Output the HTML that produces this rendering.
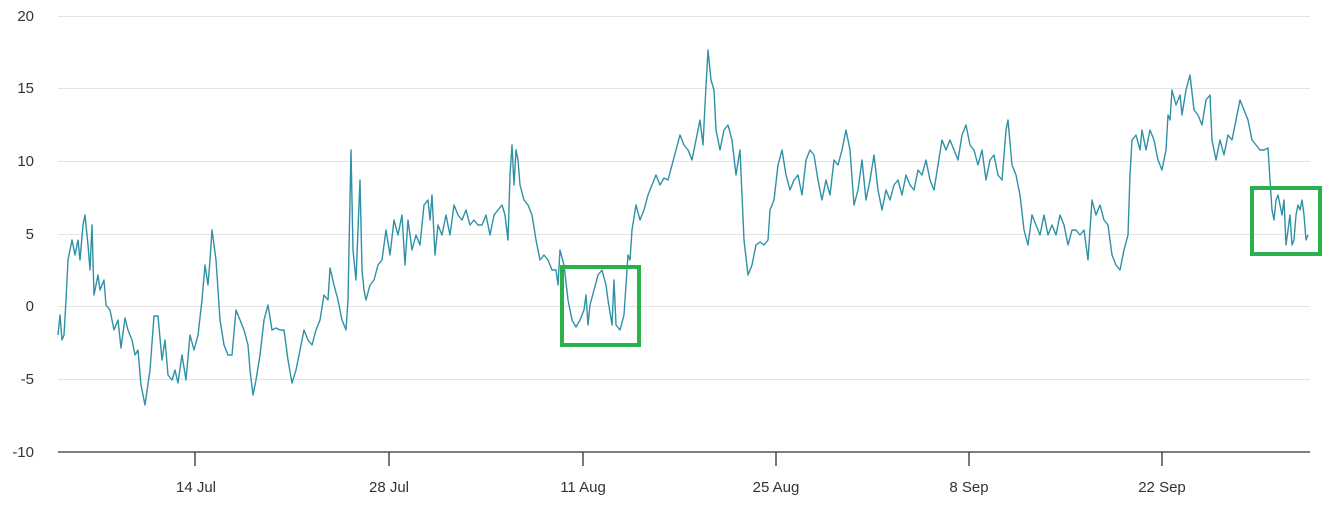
<!DOCTYPE html>
<html><head><meta charset="utf-8"><style>
html,body{margin:0;padding:0;background:#fff;}
svg text{font-family:"Liberation Sans",sans-serif;font-size:15px;fill:#333;}
</style></head><body>
<svg width="1327" height="510" xmlns="http://www.w3.org/2000/svg">
<g stroke="#e3e3e3" stroke-width="1">
<line x1="58" y1="16.5" x2="1310" y2="16.5"/>
<line x1="58" y1="88.5" x2="1310" y2="88.5"/>
<line x1="58" y1="161.5" x2="1310" y2="161.5"/>
<line x1="58" y1="234.5" x2="1310" y2="234.5"/>
<line x1="58" y1="306.5" x2="1310" y2="306.5"/>
<line x1="58" y1="379.5" x2="1310" y2="379.5"/>
</g>
<line x1="58" y1="452" x2="1310" y2="452" stroke="#333" stroke-width="1.3"/>
<g stroke="#333" stroke-width="1.3">
<line x1="195" y1="452" x2="195" y2="466"/><line x1="389" y1="452" x2="389" y2="466"/>
<line x1="583" y1="452" x2="583" y2="466"/><line x1="776" y1="452" x2="776" y2="466"/>
<line x1="969" y1="452" x2="969" y2="466"/><line x1="1162" y1="452" x2="1162" y2="466"/>
</g>
<g text-anchor="end">
<text x="34" y="21">20</text><text x="34" y="93">15</text><text x="34" y="166">10</text>
<text x="34" y="239">5</text><text x="34" y="311">0</text><text x="34" y="384">-5</text><text x="34" y="457">-10</text>
</g>
<g text-anchor="middle">
<text x="196" y="492">14 Jul</text><text x="389" y="492">28 Jul</text><text x="583" y="492">11 Aug</text>
<text x="776" y="492">25 Aug</text><text x="969" y="492">8 Sep</text><text x="1162" y="492">22 Sep</text>
</g>
<polyline fill="none" stroke="#2e91a6" stroke-width="1.4" stroke-linejoin="round" points="58,335 60,315 62,340 64,335 66,300 68,260 72,240 75,255 78,240 80,260 83,225 85,215 88,245 90,270 92,225 94,295 96,285 98,275 100,290 104,280 106,305 110,310 114,330 118,320 121,348 125,318 128,330 132,340 135,355 138,350 141,385 145,405 150,370 154,316 158,316 162,360 165,340 168,375 172,380 175,370 178,383 182,355 186,380 190,335 194,350 198,335 202,300 205,265 208,285 210,260 212,230 216,260 220,320 224,345 228,355 232,355 236,310 240,320 244,330 248,345 250,370 253,395 256,380 260,355 264,320 268,305 272,330 276,328 280,330 284,330 288,360 292,383 296,370 300,350 304,330 308,340 312,345 316,330 320,320 324,295 328,300 330,268 334,285 338,300 342,320 346,330 348,300 350,200 351,150 353,250 356,280 358,230 360,180 362,270 364,290 366,300 370,285 374,280 378,265 382,260 386,230 390,255 394,220 398,235 402,215 405,265 408,220 412,250 416,235 420,245 424,205 428,200 430,220 432,195 435,255 438,225 442,235 446,215 450,235 454,205 458,215 462,220 466,210 470,225 474,220 478,225 482,225 486,215 490,235 494,215 498,210 502,205 505,215 508,240 510,175 512,145 514,185 516,150 518,160 520,185 524,200 528,205 532,215 536,240 540,260 544,255 548,260 552,270 556,270 558,285 560,250 564,265 568,300 572,320 576,327 580,320 584,310 586,295 588,325 590,305 594,290 598,275 602,270 606,285 608,300 612,325 614,280 616,325 620,330 624,315 628,255 630,260 632,230 636,205 640,220 644,210 648,195 652,185 656,175 660,185 664,178 668,180 672,165 676,150 680,135 684,145 688,150 692,160 696,140 700,120 703,145 705,105 708,50 711,80 714,90 716,130 720,150 724,130 728,125 732,140 736,175 740,150 744,240 748,275 752,265 756,245 760,242 764,245 768,240 770,210 774,200 778,165 782,150 786,175 790,190 794,180 798,175 802,195 806,160 810,150 814,155 818,180 822,200 826,180 830,195 834,160 838,165 842,150 846,130 850,150 854,205 858,190 862,160 866,200 870,180 874,155 878,190 882,210 886,190 890,200 894,185 898,180 902,195 906,175 910,185 914,190 918,170 922,175 926,160 930,180 934,190 938,165 942,140 946,150 950,140 954,150 958,160 962,135 966,125 970,145 974,150 978,165 982,150 986,180 990,160 994,155 998,175 1002,180 1006,130 1008,120 1012,165 1016,175 1020,195 1024,230 1028,245 1032,215 1036,225 1040,235 1044,215 1048,235 1052,225 1056,235 1060,215 1064,225 1068,245 1072,230 1076,230 1080,235 1084,230 1088,260 1092,200 1096,215 1100,205 1104,220 1108,225 1112,255 1116,265 1120,270 1124,250 1128,235 1130,175 1132,140 1136,135 1140,150 1142,130 1146,150 1150,130 1154,140 1158,160 1162,170 1166,150 1168,115 1170,120 1172,90 1176,105 1180,95 1182,115 1186,90 1190,75 1194,110 1198,115 1202,125 1206,100 1210,95 1212,140 1216,160 1220,140 1224,155 1228,135 1232,140 1236,120 1240,100 1244,110 1248,120 1252,140 1256,145 1260,150 1264,150 1268,148 1270,180 1272,210 1274,220 1276,200 1278,195 1280,205 1282,215 1284,200 1286,245 1288,230 1290,215 1292,245 1294,240 1296,215 1298,205 1300,210 1302,200 1304,215 1306,240 1308,235"/>
<rect x="562" y="267" width="77" height="78" fill="none" stroke="#2bb24c" stroke-width="4"/>
<rect x="1252" y="188" width="68" height="66" fill="none" stroke="#2bb24c" stroke-width="4"/>
</svg>
</body></html>
